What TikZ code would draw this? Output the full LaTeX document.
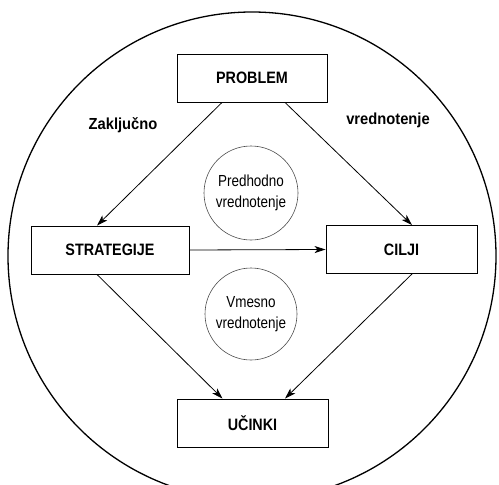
\documentclass[tikz,border=0pt]{standalone}
\usepackage{fontspec}
\setmainfont{Liberation Sans}
\newfontfamily\narrowfont[FakeStretch=0.84]{Liberation Sans}
\newfontfamily\boxfont[FakeStretch=0.87]{Liberation Sans}
\newfontfamily\labelfont[FakeStretch=0.92]{Liberation Sans}
\usetikzlibrary{arrows.meta}

\begin{document}
\begin{tikzpicture}[x=1pt, y=-1pt,
			stage/.style={draw, rectangle, line width=0.9pt, minimum width=150pt,
				minimum height=48pt, inner sep=0pt, font=\boxfont\bfseries\fontsize{16.5}{18}\selectfont},
			evalnode/.style={draw=black!70, circle, line width=0.6pt, minimum size=94pt,
				inner sep=0pt, align=center, font=\narrowfont\fontsize{16}{21}\selectfont},
			sidelabel/.style={inner sep=0pt, font=\labelfont\bfseries\fontsize{16}{18}\selectfont},
			>={Stealth[length=11pt, width=7pt, inset=3pt]}, link/.style={->, line width=0.8pt}]
			\useasboundingbox (0,0) rectangle (499,485);
			\clip (0,0) rectangle (499,485);
			\node[draw, circle, line width=1.3pt, minimum size=488pt, inner sep=0pt] (outer) at (252,256) {};
			% stages
			\node[stage] (problem) at (252,78) {PROBLEM};
			\node[stage, minimum width=158pt] (strat) at (110,250) {STRATEGIJE};
			\node[stage, minimum width=151pt] (cilji) at (401.5,249.5) {CILJI};
			\node[stage, minimum width=151pt] (ucinki) at (252.5,423) {UČINKI};
			% evaluations
			\node[evalnode] (pred) at (251,193) {Predhodno\\vrednotenje};
			\node[evalnode, minimum size=92pt] (vmes) at (251,314) {Vmesno\\vrednotenje};
			\node[sidelabel] (zakl) at (123,125) {Zaključno};
			\node[sidelabel] (vred) at (388,120) {vrednotenje};
			% connectors
			\draw[link] ([xshift=-30pt]problem.south) -- ([xshift=-13pt]strat.north);
			\draw[link] ([xshift=33pt]problem.south) -- ([xshift=10.5pt]cilji.north);
			\draw[link] (strat.east) -- (cilji.west);
			\draw[link] ([xshift=-13pt]strat.south) -- ([xshift=-30pt]ucinki.north);
			\draw[link] ([xshift=10.5pt]cilji.south) -- ([xshift=32.5pt]ucinki.north);
		\end{tikzpicture}
\end{document}
